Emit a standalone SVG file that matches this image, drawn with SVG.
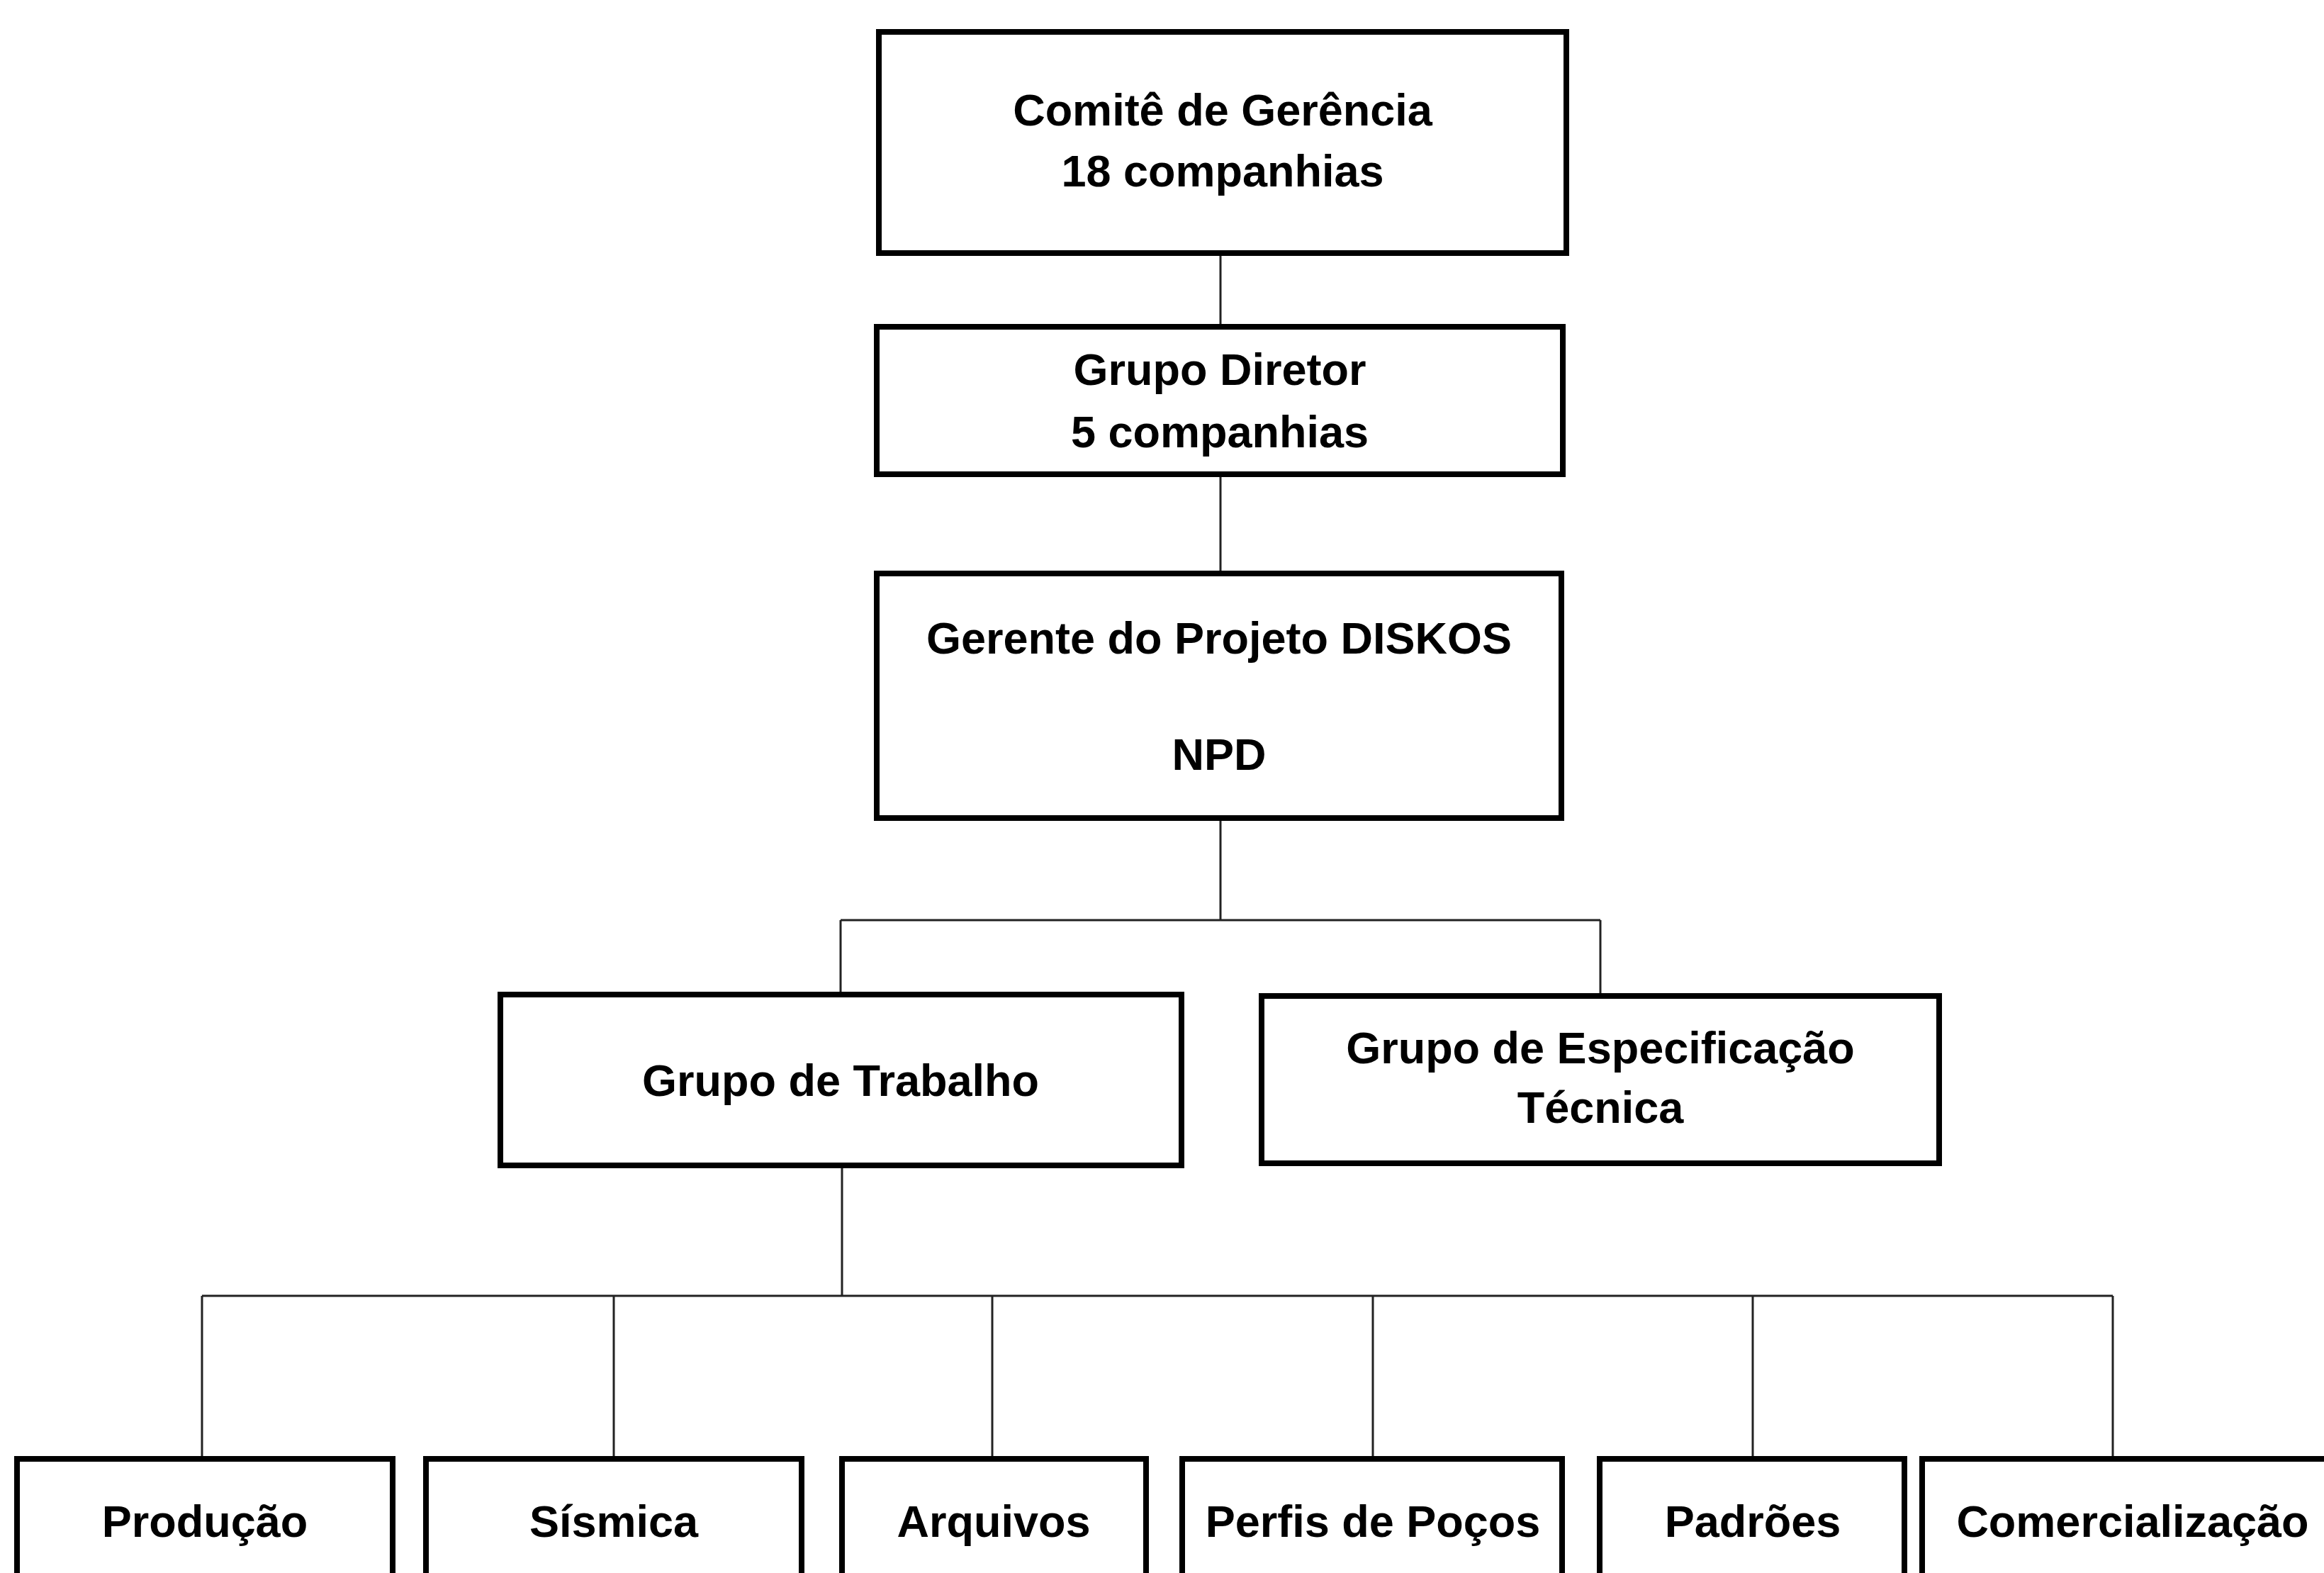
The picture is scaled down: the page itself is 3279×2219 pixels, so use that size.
<svg xmlns="http://www.w3.org/2000/svg" width="3279" height="2219" viewBox="0 0 3279 2219">
<style>
.box{fill:#fff;stroke:#000;stroke-width:8}
.t{font-family:"Liberation Sans",Arial,sans-serif;font-weight:bold;font-size:63px;fill:#000;text-anchor:middle}
.c{fill:none;stroke:#222;stroke-width:3}
</style>
<rect width="3279" height="2219" fill="#fff"/>
<g id="connectors">
<line class="c" x1="1722" y1="357" x2="1722" y2="461"/>
<line class="c" x1="1722" y1="669" x2="1722" y2="809"/>
<line class="c" x1="1722" y1="1154" x2="1722" y2="1298"/>
<line class="c" x1="1186" y1="1298" x2="2258" y2="1298"/>
<line class="c" x1="1186" y1="1298" x2="1186" y2="1403"/>
<line class="c" x1="2258" y1="1298" x2="2258" y2="1405"/>
<line class="c" x1="1188" y1="1644" x2="1188" y2="1828"/>
<line class="c" x1="285" y1="1828" x2="2981" y2="1828"/>
<line class="c" x1="285" y1="1828" x2="285" y2="2058"/>
<line class="c" x1="866" y1="1828" x2="866" y2="2058"/>
<line class="c" x1="1400" y1="1828" x2="1400" y2="2058"/>
<line class="c" x1="1937" y1="1828" x2="1937" y2="2058"/>
<line class="c" x1="2473" y1="1828" x2="2473" y2="2058"/>
<line class="c" x1="2981" y1="1828" x2="2981" y2="2058"/>
</g>
<g id="comite">
<rect class="box" x="1240" y="45" width="970" height="312"/>
<text class="t" x="1725" y="177">Comitê de Gerência</text>
<text class="t" x="1725" y="263">18 companhias</text>
</g>
<g id="diretor">
<rect class="box" x="1237" y="461" width="968" height="208"/>
<text class="t" x="1721" y="543">Grupo Diretor</text>
<text class="t" x="1721" y="631">5 companhias</text>
</g>
<g id="gerente">
<rect class="box" x="1237" y="809" width="966" height="345"/>
<text class="t" x="1720" y="922">Gerente do Projeto DISKOS</text>
<text class="t" x="1720" y="1086">NPD</text>
</g>
<g id="trabalho">
<rect class="box" x="706" y="1403" width="961" height="241"/>
<text class="t" x="1186" y="1546">Grupo de Trabalho</text>
</g>
<g id="especificacao">
<rect class="box" x="1780" y="1405" width="956" height="236"/>
<text class="t" x="2258" y="1500">Grupo de Especificação</text>
<text class="t" x="2258" y="1584">Técnica</text>
</g>
<g id="producao">
<rect class="box" x="24" y="2058" width="530" height="220"/>
<text class="t" x="289" y="2168">Produção</text>
</g>
<g id="sismica">
<rect class="box" x="601" y="2058" width="530" height="220"/>
<text class="t" x="866" y="2168">Sísmica</text>
</g>
<g id="arquivos">
<rect class="box" x="1188" y="2058" width="429" height="220"/>
<text class="t" x="1402" y="2168">Arquivos</text>
</g>
<g id="perfis">
<rect class="box" x="1668" y="2058" width="536" height="220"/>
<text class="t" x="1937" y="2168">Perfis de Poços</text>
</g>
<g id="padroes">
<rect class="box" x="2257" y="2058" width="430" height="220"/>
<text class="t" x="2473" y="2168">Padrões</text>
</g>
<g id="comercializacao">
<rect class="box" x="2712" y="2058" width="620" height="220"/>
<text class="t" x="3009" y="2168">Comercialização</text>
</g>
</svg>
